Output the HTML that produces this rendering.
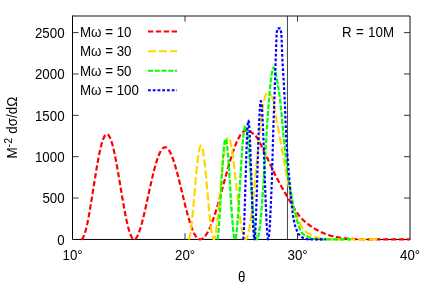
<!DOCTYPE html>
<html><head><meta charset="utf-8"><title>chart</title>
<style>html,body{margin:0;padding:0;background:#fff;width:432px;height:287px;overflow:hidden}svg{will-change:transform;opacity:.9999}</style>
</head><body>
<svg width="432" height="287" viewBox="0 0 432 287" style="position:absolute;left:0;top:0">
<rect width="432" height="287" fill="#fff"/>
<line x1="287.45" y1="16" x2="287.45" y2="239.4" stroke="#222" stroke-width="0.85"/>
<path d="M72.5,16 H410" stroke="#111" stroke-width="1" fill="none"/>
<path d="M410,16 V239.4" stroke="#111" stroke-width="1" fill="none"/>
<path d="M72.5,15.5 V239.45 H410.5" stroke="#000" stroke-width="1" fill="none"/>
<line x1="72.5" y1="198.04" x2="78.5" y2="198.04" stroke="#333" stroke-width="1"/>
<line x1="410" y1="198.04" x2="404" y2="198.04" stroke="#333" stroke-width="1"/>
<line x1="72.5" y1="156.68" x2="78.5" y2="156.68" stroke="#333" stroke-width="1"/>
<line x1="410" y1="156.68" x2="404" y2="156.68" stroke="#333" stroke-width="1"/>
<line x1="72.5" y1="115.32" x2="78.5" y2="115.32" stroke="#333" stroke-width="1"/>
<line x1="410" y1="115.32" x2="404" y2="115.32" stroke="#333" stroke-width="1"/>
<line x1="72.5" y1="73.96" x2="78.5" y2="73.96" stroke="#333" stroke-width="1"/>
<line x1="410" y1="73.96" x2="404" y2="73.96" stroke="#333" stroke-width="1"/>
<line x1="72.5" y1="32.60" x2="78.5" y2="32.60" stroke="#333" stroke-width="1"/>
<line x1="410" y1="32.60" x2="404" y2="32.60" stroke="#333" stroke-width="1"/>
<line x1="185.00" y1="239.4" x2="185.00" y2="233.2" stroke="#333" stroke-width="1"/>
<line x1="185.00" y1="16" x2="185.00" y2="21.5" stroke="#333" stroke-width="1"/>
<line x1="297.50" y1="239.4" x2="297.50" y2="233.2" stroke="#333" stroke-width="1"/>
<line x1="297.50" y1="16" x2="297.50" y2="21.5" stroke="#333" stroke-width="1"/>
<path d="M81.20,239.40 L82.09,238.98 L82.97,237.84 L83.86,236.04 L84.74,233.62 L85.62,230.64 L86.51,227.14 L87.40,223.17 L88.28,218.79 L89.17,214.05 L90.05,209.01 L90.94,203.73 L91.82,198.28 L92.71,192.71 L93.59,187.10 L94.48,181.50 L95.36,175.98 L96.25,170.59 L97.13,165.40 L98.02,160.46 L98.90,155.82 L99.78,151.54 L100.67,147.65 L101.56,144.19 L102.44,141.21 L103.33,138.73 L104.21,136.77 L105.09,135.35 L105.98,134.48 L106.87,134.18 L107.75,134.44 L108.64,135.25 L109.52,136.61 L110.41,138.50 L111.29,140.89 L112.18,143.77 L113.06,147.09 L113.95,150.82 L114.83,154.92 L115.72,159.35 L116.60,164.06 L117.49,169.00 L118.37,174.12 L119.26,179.36 L120.14,184.68 L121.03,190.01 L121.91,195.30 L122.80,200.50 L123.68,205.55 L124.57,210.41 L125.45,215.03 L126.34,219.35 L127.22,223.34 L128.11,226.96 L128.99,230.17 L129.88,232.93 L130.76,235.23 L131.65,237.04 L132.53,238.35 L133.42,239.14 L134.30,239.40 L135.40,238.89 L136.49,237.61 L137.59,235.67 L138.68,233.14 L139.78,230.09 L140.87,226.59 L141.97,222.68 L143.06,218.44 L144.16,213.92 L145.25,209.18 L146.34,204.28 L147.44,199.29 L148.53,194.26 L149.63,189.25 L150.73,184.33 L151.82,179.53 L152.92,174.92 L154.01,170.53 L155.11,166.43 L156.20,162.64 L157.30,159.21 L158.39,156.16 L159.49,153.53 L160.58,151.34 L161.68,149.61 L162.77,148.34 L163.87,147.56 L164.96,147.25 L166.06,147.43 L167.15,148.09 L168.25,149.20 L169.34,150.77 L170.44,152.77 L171.53,155.17 L172.62,157.95 L173.72,161.08 L174.81,164.53 L175.91,168.25 L177.00,172.22 L178.10,176.38 L179.19,180.70 L180.29,185.14 L181.38,189.64 L182.48,194.18 L183.57,198.69 L184.67,203.15 L185.76,207.50 L186.86,211.71 L187.95,215.74 L189.05,219.55 L190.15,223.10 L191.24,226.37 L192.34,229.32 L193.43,231.93 L194.53,234.18 L195.62,236.04 L196.72,237.50 L197.81,238.55 L198.91,239.19 L200.00,239.40 L201.17,239.23 L202.34,238.73 L203.50,237.89 L204.67,236.73 L205.84,235.24 L207.00,233.45 L208.17,231.35 L209.34,228.97 L210.51,226.32 L211.68,223.41 L212.84,220.26 L214.01,216.90 L215.18,213.33 L216.34,209.59 L217.51,205.70 L218.68,201.68 L219.85,197.55 L221.01,193.35 L222.18,189.09 L223.35,184.80 L224.52,180.52 L225.69,176.26 L226.85,172.06 L228.02,167.93 L229.19,163.91 L230.35,160.02 L231.52,156.28 L232.69,152.71 L233.86,149.35 L235.02,146.20 L236.19,143.29 L237.36,140.64 L238.53,138.25 L239.69,136.16 L240.86,134.37 L242.03,132.88 L243.20,131.72 L244.36,130.88 L245.53,130.38 L246.70,130.21 L246.95,130.23 L247.20,130.26 L247.45,130.31 L247.70,130.36 L247.95,130.43 L248.20,130.51 L248.45,130.59 L248.70,130.69 L248.95,130.79 L249.20,130.91 L249.45,131.03 L249.70,131.17 L249.95,131.31 L250.20,131.46 L250.45,131.61 L250.70,131.78 L250.94,131.95 L251.19,132.12 L251.44,132.31 L251.69,132.50 L251.94,132.69 L252.19,132.89 L252.44,133.10 L252.69,133.31 L252.94,133.52 L253.19,133.74 L253.44,133.96 L253.69,134.19 L253.94,134.42 L254.19,134.65 L254.44,134.88 L254.69,135.12 L254.94,135.35 L255.19,135.59 L255.44,135.83 L255.69,136.07 L255.94,136.32 L256.19,136.60 L256.44,136.89 L256.69,137.20 L256.94,137.54 L257.19,137.89 L257.44,138.26 L257.69,138.64 L257.94,139.04 L258.19,139.46 L258.44,139.89 L258.69,140.33 L258.94,140.79 L259.18,141.26 L259.43,141.73 L259.68,142.22 L259.93,142.72 L260.18,143.22 L260.43,143.74 L260.68,144.25 L260.93,144.78 L261.18,145.31 L261.43,145.84 L261.68,146.38 L261.93,146.92 L262.18,147.45 L262.43,147.99 L262.68,148.53 L262.93,149.07 L263.18,149.61 L263.43,150.14 L263.68,150.67 L263.93,151.19 L264.18,151.71 L264.43,152.23 L264.68,152.73 L264.93,153.23 L265.18,153.72 L265.43,154.22 L265.68,154.72 L265.93,155.22 L266.18,155.73 L266.43,156.24 L266.68,156.75 L266.93,157.27 L267.17,157.79 L267.42,158.31 L267.67,158.84 L267.92,159.36 L268.17,159.89 L268.42,160.42 L268.67,160.96 L268.92,161.49 L269.17,162.03 L269.42,162.56 L269.67,163.10 L269.92,163.64 L270.17,164.17 L270.42,164.71 L270.67,165.25 L270.92,165.79 L271.17,166.32 L271.42,166.86 L271.67,167.40 L271.92,167.93 L272.17,168.46 L272.42,168.99 L272.67,169.52 L272.92,170.05 L273.17,170.58 L273.42,171.10 L273.67,171.62 L273.92,172.14 L274.17,172.65 L274.42,173.16 L274.67,173.67 L274.92,174.17 L275.17,174.67 L275.41,175.17 L275.66,175.66 L275.91,176.15 L276.16,176.63 L276.41,177.11 L276.66,177.59 L276.91,178.07 L277.16,178.55 L277.41,179.03 L277.66,179.50 L277.91,179.98 L278.16,180.45 L278.41,180.92 L278.66,181.39 L278.91,181.86 L279.16,182.33 L279.41,182.79 L279.66,183.26 L279.91,183.72 L280.16,184.18 L280.41,184.64 L280.66,185.10 L280.91,185.56 L281.16,186.02 L281.41,186.47 L281.66,186.92 L281.91,187.37 L282.16,187.82 L282.41,188.27 L282.66,188.72 L282.91,189.17 L283.16,189.61 L283.41,190.06 L283.65,190.50 L283.90,190.94 L284.15,191.38 L284.40,191.82 L284.65,192.25 L284.90,192.69 L285.15,193.12 L285.40,193.55 L285.65,193.99 L285.90,194.42 L286.15,194.84 L286.40,195.27 L286.65,195.70 L286.90,196.12 L287.15,196.54 L287.40,196.96 L287.65,197.39 L287.90,197.81 L288.15,198.23 L288.40,198.66 L288.65,199.08 L288.90,199.51 L289.15,199.93 L289.40,200.36 L289.65,200.79 L289.90,201.21 L290.15,201.64 L290.40,202.06 L290.65,202.49 L290.90,202.91 L291.15,203.33 L291.40,203.76 L291.64,204.18 L291.89,204.60 L292.14,205.02 L292.39,205.43 L292.64,205.85 L292.89,206.26 L293.14,206.68 L293.39,207.08 L293.64,207.49 L293.89,207.90 L294.14,208.30 L294.39,208.70 L294.64,209.09 L294.89,209.49 L295.14,209.88 L295.39,210.27 L295.64,210.65 L295.89,211.03 L296.14,211.41 L296.39,211.78 L296.64,212.15 L296.89,212.51 L297.14,212.87 L297.39,213.23 L297.64,213.58 L297.89,213.92 L298.14,214.26 L298.39,214.60 L298.64,214.93 L298.89,215.26 L299.14,215.58 L299.39,215.89 L299.64,216.20 L299.88,216.50 L300.13,216.80 L300.38,217.10 L300.63,217.39 L300.88,217.67 L301.13,217.95 L301.38,218.23 L301.63,218.50 L301.88,218.76 L302.13,219.02 L302.38,219.28 L302.63,219.52 L302.88,219.77 L303.13,220.01 L303.38,220.24 L303.63,220.47 L303.88,220.69 L304.13,220.90 L304.38,221.12 L304.63,221.34 L304.88,221.55 L305.13,221.76 L305.38,221.97 L305.63,222.18 L305.88,222.38 L306.13,222.59 L306.38,222.79 L306.63,223.00 L306.88,223.20 L307.13,223.40 L307.38,223.60 L307.63,223.79 L307.88,223.99 L308.12,224.18 L308.37,224.37 L308.62,224.56 L308.87,224.75 L309.12,224.94 L309.37,225.12 L309.62,225.31 L309.87,225.49 L310.12,225.67 L310.37,225.85 L310.62,226.03 L310.87,226.20 L311.12,226.38 L311.37,226.55 L311.62,226.72 L311.87,226.89 L312.12,227.06 L312.37,227.23 L312.62,227.39 L312.87,227.55 L313.12,227.71 L313.37,227.87 L313.62,228.03 L313.87,228.19 L314.12,228.34 L314.37,228.50 L314.62,228.65 L314.87,228.80 L315.12,228.94 L315.37,229.09 L315.62,229.23 L315.87,229.37 L316.11,229.51 L316.36,229.65 L316.61,229.79 L316.86,229.93 L317.11,230.06 L317.36,230.19 L317.61,230.32 L317.86,230.45 L318.11,230.57 L318.36,230.70 L318.61,230.83 L318.86,230.95 L319.11,231.07 L319.36,231.20 L319.61,231.32 L319.86,231.44 L320.11,231.56 L320.36,231.68 L320.61,231.80 L320.86,231.92 L321.11,232.04 L321.36,232.16 L321.61,232.28 L321.86,232.39 L322.11,232.51 L322.36,232.62 L322.61,232.73 L322.86,232.85 L323.11,232.96 L323.36,233.07 L323.61,233.18 L323.86,233.28 L324.11,233.39 L324.35,233.50 L324.60,233.60 L324.85,233.70 L325.10,233.81 L325.35,233.91 L325.60,234.01 L325.85,234.10 L326.10,234.20 L326.35,234.30 L326.60,234.39 L326.85,234.48 L327.10,234.58 L327.35,234.67 L327.60,234.76 L327.85,234.84 L328.10,234.93 L328.35,235.01 L328.60,235.10 L328.85,235.18 L329.10,235.26 L329.35,235.33 L329.60,235.41 L329.85,235.48 L330.10,235.56 L330.35,235.63 L330.60,235.70 L330.85,235.77 L331.10,235.83 L331.35,235.90 L331.60,235.96 L331.85,236.02 L332.10,236.08 L332.35,236.14 L332.59,236.20 L332.84,236.25 L333.09,236.31 L333.34,236.37 L333.59,236.43 L333.84,236.48 L334.09,236.54 L334.34,236.59 L334.59,236.65 L334.84,236.70 L335.09,236.75 L335.34,236.81 L335.59,236.86 L335.84,236.91 L336.09,236.96 L336.34,237.01 L336.59,237.06 L336.84,237.11 L337.09,237.16 L337.34,237.21 L337.59,237.26 L337.84,237.30 L338.09,237.35 L338.34,237.39 L338.59,237.44 L338.84,237.48 L339.09,237.53 L339.34,237.57 L339.59,237.61 L339.84,237.65 L340.09,237.69 L340.34,237.73 L340.59,237.77 L340.83,237.81 L341.08,237.85 L341.33,237.88 L341.58,237.92 L341.83,237.95 L342.08,237.99 L342.33,238.02 L342.58,238.06 L342.83,238.09 L343.08,238.12 L343.33,238.15 L343.58,238.18 L343.83,238.21 L344.08,238.24 L344.33,238.26 L344.58,238.29 L344.83,238.32 L345.08,238.34 L345.33,238.36 L345.58,238.39 L345.83,238.41 L346.08,238.43 L346.33,238.45 L346.58,238.47 L346.83,238.50 L347.08,238.52 L347.33,238.54 L347.58,238.56 L347.83,238.58 L348.08,238.60 L348.33,238.62 L348.58,238.64 L348.82,238.66 L349.07,238.68 L349.32,238.70 L349.57,238.72 L349.82,238.74 L350.07,238.76 L350.32,238.77 L350.57,238.79 L350.82,238.81 L351.07,238.83 L351.32,238.85 L351.57,238.86 L351.82,238.88 L352.07,238.90 L352.32,238.91 L352.57,238.93 L352.82,238.94 L353.07,238.96 L353.32,238.97 L353.57,238.99 L353.82,239.00 L354.07,239.02 L354.32,239.03 L354.57,239.04 L354.82,239.06 L355.07,239.07 L355.32,239.08 L355.57,239.09 L355.82,239.11 L356.07,239.12 L356.32,239.13 L356.57,239.14 L356.82,239.15 L357.06,239.16 L357.31,239.17 L357.56,239.17 L357.81,239.18 L358.06,239.19 L358.31,239.20 L358.56,239.20 L358.81,239.21 L359.06,239.22 L359.31,239.22 L359.56,239.23 L359.81,239.23 L360.06,239.24 L360.31,239.24 L360.56,239.24 L360.81,239.25 L361.06,239.25 L361.31,239.25 L361.56,239.26 L361.81,239.26 L362.06,239.26 L362.31,239.27 L362.56,239.27 L362.81,239.27 L363.06,239.28 L363.31,239.28 L363.56,239.28 L363.81,239.29 L364.06,239.29 L364.31,239.29 L364.56,239.30 L364.81,239.30 L365.06,239.30 L365.30,239.31 L365.55,239.31 L365.80,239.31 L366.05,239.32 L366.30,239.32 L366.55,239.32 L366.80,239.32 L367.05,239.33 L367.30,239.33 L367.55,239.33 L367.80,239.33 L368.05,239.34 L368.30,239.34 L368.55,239.34 L368.80,239.34 L369.05,239.35 L369.30,239.35 L369.55,239.35 L369.80,239.35 L370.05,239.36 L370.30,239.36 L370.55,239.36 L370.80,239.36 L371.05,239.36 L371.30,239.37 L371.55,239.37 L371.80,239.37 L372.05,239.37 L372.30,239.37 L372.55,239.37 L372.80,239.38 L373.05,239.38 L373.29,239.38 L373.54,239.38 L373.79,239.38 L374.04,239.38 L374.29,239.38 L374.54,239.39 L374.79,239.39 L375.04,239.39 L375.29,239.39 L375.54,239.39 L375.79,239.39 L376.04,239.39 L376.29,239.39 L376.54,239.39 L376.79,239.40 L377.04,239.40 L377.29,239.40 L377.54,239.40 L377.79,239.40 L378.04,239.40 L378.29,239.40 L378.54,239.40 L378.79,239.40 L379.04,239.40 L379.29,239.40 L379.54,239.40 L379.79,239.40 L380.04,239.40 L380.29,239.40 L380.54,239.40 L380.79,239.40 L381.04,239.40 L381.29,239.40 L381.53,239.40 L381.78,239.40 L382.03,239.40 L382.28,239.40 L382.53,239.40 L382.78,239.40 L383.03,239.40 L383.28,239.40 L383.53,239.40 L383.78,239.40 L384.03,239.40 L384.28,239.40 L384.53,239.40 L384.78,239.40 L385.03,239.40 L385.28,239.40 L385.53,239.40 L385.78,239.40 L386.03,239.40 L386.28,239.40 L386.53,239.40 L386.78,239.40 L387.03,239.40 L387.28,239.40 L387.53,239.40 L387.78,239.40 L388.03,239.40 L388.28,239.40 L388.53,239.40 L388.78,239.40 L389.03,239.40 L389.28,239.40 L389.53,239.40 L389.77,239.40 L390.02,239.40 L390.27,239.40 L390.52,239.40 L390.77,239.40 L391.02,239.40 L391.27,239.40 L391.52,239.40 L391.77,239.40 L392.02,239.40 L392.27,239.40 L392.52,239.40 L392.77,239.40 L393.02,239.40 L393.27,239.40 L393.52,239.40 L393.77,239.40 L394.02,239.40 L394.27,239.40 L394.52,239.40 L394.77,239.40 L395.02,239.40 L395.27,239.40 L395.52,239.40 L395.77,239.40 L396.02,239.40 L396.27,239.40 L396.52,239.40 L396.77,239.40 L397.02,239.40 L397.27,239.40 L397.52,239.40 L397.76,239.40 L398.01,239.40 L398.26,239.40 L398.51,239.40 L398.76,239.40 L399.01,239.40 L399.26,239.40 L399.51,239.40 L399.76,239.40 L400.01,239.40 L400.26,239.40 L400.51,239.40 L400.76,239.40 L401.01,239.40 L401.26,239.40 L401.51,239.40 L401.76,239.40 L402.01,239.40 L402.26,239.40 L402.51,239.40 L402.76,239.40 L403.01,239.40 L403.26,239.40 L403.51,239.40 L403.76,239.40 L404.01,239.40 L404.26,239.40 L404.51,239.40 L404.76,239.40 L405.01,239.40 L405.26,239.40 L405.51,239.40 L405.76,239.40 L406.00,239.40 L406.25,239.40 L406.50,239.40 L406.75,239.40 L407.00,239.40 L407.25,239.40 L407.50,239.40 L407.75,239.40 L408.00,239.40 L408.25,239.40 L408.50,239.40 L408.75,239.40 L409.00,239.40 L409.25,239.40 L409.50,239.40 L409.75,239.40 L410.00,239.40" fill="none" stroke="#ff0000" stroke-width="2.2" stroke-dasharray="5.3 2.6" stroke-linejoin="round"/>
<path d="M188.40,239.40 L188.83,239.09 L189.25,238.21 L189.68,236.78 L190.11,234.83 L190.53,232.39 L190.96,229.50 L191.39,226.18 L191.81,222.49 L192.24,218.47 L192.67,214.16 L193.09,209.61 L193.52,204.88 L193.95,200.01 L194.37,195.07 L194.80,190.11 L195.23,185.18 L195.65,180.34 L196.08,175.63 L196.51,171.12 L196.93,166.85 L197.36,162.86 L197.79,159.21 L198.21,155.92 L198.64,153.03 L199.07,150.57 L199.49,148.57 L199.92,147.05 L200.35,146.03 L200.77,145.50 L201.20,145.49 L201.63,145.98 L202.05,146.97 L202.48,148.45 L202.91,150.40 L203.33,152.80 L203.76,155.63 L204.19,158.84 L204.61,162.42 L205.04,166.31 L205.47,170.48 L205.89,174.88 L206.32,179.47 L206.75,184.19 L207.17,188.99 L207.60,193.83 L208.03,198.66 L208.45,203.41 L208.88,208.05 L209.31,212.51 L209.73,216.77 L210.16,220.76 L210.59,224.45 L211.01,227.81 L211.44,230.79 L211.87,233.36 L212.29,235.51 L212.72,237.20 L213.15,238.42 L213.57,239.15 L214.00,239.40 L214.53,238.59 L215.05,236.72 L215.57,234.02 L216.10,230.62 L216.62,226.64 L217.15,222.16 L217.68,217.28 L218.20,212.07 L218.72,206.62 L219.25,200.99 L219.78,195.28 L220.30,189.55 L220.82,183.86 L221.35,178.29 L221.88,172.89 L222.40,167.72 L222.93,162.83 L223.45,158.28 L223.97,154.09 L224.50,150.32 L225.03,147.00 L225.55,144.14 L226.07,141.78 L226.60,139.92 L227.12,138.59 L227.65,137.78 L228.18,137.49 L228.70,137.72 L229.22,138.47 L229.75,139.71 L230.28,141.43 L230.80,143.60 L231.32,146.20 L231.85,149.20 L232.38,152.57 L232.90,156.26 L233.43,160.25 L233.95,164.48 L234.47,168.93 L235.00,173.54 L235.53,178.27 L236.05,183.08 L236.57,187.93 L237.10,192.77 L237.62,197.55 L238.15,202.23 L238.68,206.79 L239.20,211.16 L239.72,215.33 L240.25,219.25 L240.78,222.89 L241.30,226.23 L241.82,229.23 L242.35,231.88 L242.88,234.15 L243.40,236.02 L243.93,237.50 L244.45,238.55 L244.97,239.19 L245.50,239.40 L246.04,239.17 L246.59,238.50 L247.13,237.38 L247.67,235.83 L248.21,233.84 L248.75,231.44 L249.30,228.64 L249.84,225.45 L250.38,221.90 L250.93,218.01 L251.47,213.80 L252.01,209.29 L252.55,204.52 L253.09,199.52 L253.64,194.31 L254.18,188.93 L254.72,183.41 L255.26,177.78 L255.81,172.09 L256.35,166.36 L256.89,160.63 L257.44,154.93 L257.98,149.31 L258.52,143.79 L259.06,138.41 L259.61,133.20 L260.15,128.19 L260.69,123.43 L261.23,118.92 L261.77,114.71 L262.32,110.82 L262.86,107.27 L263.40,104.08 L263.94,101.28 L264.49,98.88 L265.03,96.89 L265.57,95.33 L266.12,94.22 L266.66,93.54 L267.20,93.32 L267.45,93.33 L267.70,93.36 L267.95,93.42 L268.20,93.49 L268.45,93.59 L268.70,93.70 L268.95,93.83 L269.20,93.98 L269.45,94.15 L269.70,94.33 L269.95,94.53 L270.19,94.74 L270.44,94.97 L270.69,95.21 L270.94,95.46 L271.19,95.72 L271.44,96.00 L271.69,96.28 L271.94,96.67 L272.19,97.24 L272.44,97.97 L272.69,98.87 L272.94,99.90 L273.19,101.05 L273.44,102.30 L273.69,103.65 L273.94,105.07 L274.19,106.54 L274.44,108.06 L274.69,109.60 L274.94,111.15 L275.19,112.69 L275.44,114.20 L275.68,115.68 L275.93,117.10 L276.18,118.44 L276.43,119.72 L276.68,120.98 L276.93,122.25 L277.18,123.51 L277.43,124.78 L277.68,126.06 L277.93,127.34 L278.18,128.62 L278.43,129.91 L278.68,131.21 L278.93,132.52 L279.18,133.84 L279.43,135.16 L279.68,136.50 L279.93,137.85 L280.18,139.22 L280.43,140.60 L280.68,142.00 L280.93,143.40 L281.17,144.82 L281.42,146.25 L281.67,147.68 L281.92,149.12 L282.17,150.57 L282.42,152.02 L282.67,153.47 L282.92,154.92 L283.17,156.37 L283.42,157.82 L283.67,159.27 L283.92,160.72 L284.17,162.16 L284.42,163.59 L284.67,165.01 L284.92,166.42 L285.17,167.83 L285.42,169.22 L285.67,170.59 L285.92,171.95 L286.17,173.30 L286.42,174.63 L286.66,175.94 L286.91,177.22 L287.16,178.46 L287.41,179.67 L287.66,180.87 L287.91,182.07 L288.16,183.27 L288.41,184.49 L288.66,185.75 L288.91,187.04 L289.16,188.43 L289.41,189.90 L289.66,191.43 L289.91,193.01 L290.16,194.61 L290.41,196.22 L290.66,197.82 L290.91,199.39 L291.16,200.91 L291.41,202.37 L291.66,203.74 L291.91,205.00 L292.15,206.15 L292.40,207.15 L292.65,208.00 L292.90,208.70 L293.15,209.36 L293.40,209.96 L293.65,210.53 L293.90,211.05 L294.15,211.55 L294.40,212.01 L294.65,212.46 L294.90,212.88 L295.15,213.30 L295.40,213.71 L295.65,214.12 L295.90,214.53 L296.15,214.96 L296.40,215.40 L296.65,215.86 L296.90,216.35 L297.15,216.85 L297.40,217.37 L297.65,217.90 L297.89,218.44 L298.14,218.99 L298.39,219.55 L298.64,220.11 L298.89,220.68 L299.14,221.25 L299.39,221.82 L299.64,222.38 L299.89,222.95 L300.14,223.51 L300.39,224.06 L300.64,224.61 L300.89,225.14 L301.14,225.66 L301.39,226.17 L301.64,226.66 L301.89,227.14 L302.14,227.60 L302.39,228.03 L302.64,228.45 L302.89,228.84 L303.14,229.20 L303.38,229.54 L303.63,229.84 L303.88,230.12 L304.13,230.36 L304.38,230.58 L304.63,230.79 L304.88,230.97 L305.13,231.15 L305.38,231.32 L305.63,231.49 L305.88,231.67 L306.13,231.84 L306.38,232.02 L306.63,232.19 L306.88,232.36 L307.13,232.53 L307.38,232.69 L307.63,232.86 L307.88,233.02 L308.13,233.19 L308.38,233.35 L308.63,233.51 L308.87,233.66 L309.12,233.82 L309.37,233.97 L309.62,234.12 L309.87,234.27 L310.12,234.42 L310.37,234.56 L310.62,234.70 L310.87,234.84 L311.12,234.98 L311.37,235.12 L311.62,235.25 L311.87,235.38 L312.12,235.50 L312.37,235.63 L312.62,235.75 L312.87,235.87 L313.12,235.98 L313.37,236.09 L313.62,236.19 L313.87,236.29 L314.12,236.38 L314.36,236.47 L314.61,236.55 L314.86,236.64 L315.11,236.72 L315.36,236.80 L315.61,236.88 L315.86,236.96 L316.11,237.04 L316.36,237.12 L316.61,237.19 L316.86,237.26 L317.11,237.34 L317.36,237.41 L317.61,237.47 L317.86,237.54 L318.11,237.61 L318.36,237.67 L318.61,237.73 L318.86,237.79 L319.11,237.85 L319.36,237.91 L319.61,237.97 L319.85,238.02 L320.10,238.07 L320.35,238.12 L320.60,238.17 L320.85,238.22 L321.10,238.26 L321.35,238.30 L321.60,238.35 L321.85,238.39 L322.10,238.43 L322.35,238.47 L322.60,238.51 L322.85,238.55 L323.10,238.59 L323.35,238.63 L323.60,238.67 L323.85,238.70 L324.10,238.74 L324.35,238.78 L324.60,238.81 L324.85,238.84 L325.10,238.87 L325.35,238.91 L325.59,238.93 L325.84,238.96 L326.09,238.99 L326.34,239.02 L326.59,239.04 L326.84,239.06 L327.09,239.09 L327.34,239.11 L327.59,239.12 L327.84,239.14 L328.09,239.16 L328.34,239.17 L328.59,239.19 L328.84,239.20 L329.09,239.22 L329.34,239.23 L329.59,239.25 L329.84,239.26 L330.09,239.28 L330.34,239.29 L330.59,239.30 L330.84,239.31 L331.08,239.33 L331.33,239.34 L331.58,239.35 L331.83,239.36 L332.08,239.37 L332.33,239.37 L332.58,239.38 L332.83,239.39 L333.08,239.39 L333.33,239.40 L333.58,239.40 L333.83,239.40 L334.08,239.40 L334.33,239.40 L334.58,239.40 L334.83,239.40 L335.08,239.40 L335.33,239.40 L335.58,239.40 L335.83,239.40 L336.08,239.40 L336.33,239.40 L336.57,239.40 L336.82,239.40 L337.07,239.40 L337.32,239.40 L337.57,239.40 L337.82,239.40 L338.07,239.40 L338.32,239.40 L338.57,239.40 L338.82,239.40 L339.07,239.40 L339.32,239.40 L339.57,239.40 L339.82,239.40 L340.07,239.40 L340.32,239.40 L340.57,239.40 L340.82,239.40 L341.07,239.40 L341.32,239.40 L341.57,239.40 L341.82,239.40 L342.06,239.40 L342.31,239.40 L342.56,239.40 L342.81,239.40 L343.06,239.40 L343.31,239.40 L343.56,239.40 L343.81,239.40 L344.06,239.40 L344.31,239.40 L344.56,239.40 L344.81,239.40 L345.06,239.40 L345.31,239.40 L345.56,239.40 L345.81,239.40 L346.06,239.40 L346.31,239.40 L346.56,239.40 L346.81,239.40 L347.06,239.40 L347.31,239.40 L347.55,239.40 L347.80,239.40 L348.05,239.40 L348.30,239.40 L348.55,239.40 L348.80,239.40 L349.05,239.40 L349.30,239.40 L349.55,239.40 L349.80,239.40 L350.05,239.40 L350.30,239.40 L350.55,239.40 L350.80,239.40 L351.05,239.40 L351.30,239.40 L351.55,239.40 L351.80,239.40 L352.05,239.40 L352.30,239.40 L352.55,239.40 L352.80,239.40 L353.05,239.40 L353.29,239.40 L353.54,239.40 L353.79,239.40 L354.04,239.40 L354.29,239.40 L354.54,239.40 L354.79,239.40 L355.04,239.40 L355.29,239.40 L355.54,239.40 L355.79,239.40 L356.04,239.40 L356.29,239.40 L356.54,239.40 L356.79,239.40 L357.04,239.40 L357.29,239.40 L357.54,239.40 L357.79,239.40 L358.04,239.40 L358.29,239.40 L358.54,239.40 L358.78,239.40 L359.03,239.40 L359.28,239.40 L359.53,239.40 L359.78,239.40 L360.03,239.40 L360.28,239.40 L360.53,239.40 L360.78,239.40 L361.03,239.40 L361.28,239.40 L361.53,239.40 L361.78,239.40 L362.03,239.40 L362.28,239.40 L362.53,239.40 L362.78,239.40 L363.03,239.40 L363.28,239.40 L363.53,239.40 L363.78,239.40 L364.03,239.40 L364.27,239.40 L364.52,239.40 L364.77,239.40 L365.02,239.40 L365.27,239.40 L365.52,239.40 L365.77,239.40 L366.02,239.40 L366.27,239.40 L366.52,239.40 L366.77,239.40 L367.02,239.40 L367.27,239.40 L367.52,239.40 L367.77,239.40 L368.02,239.40 L368.27,239.40 L368.52,239.40 L368.77,239.40 L369.02,239.40 L369.27,239.40 L369.52,239.40 L369.76,239.40 L370.01,239.40 L370.26,239.40 L370.51,239.40 L370.76,239.40 L371.01,239.40 L371.26,239.40 L371.51,239.40 L371.76,239.40 L372.01,239.40 L372.26,239.40 L372.51,239.40 L372.76,239.40 L373.01,239.40 L373.26,239.40 L373.51,239.40 L373.76,239.40 L374.01,239.40 L374.26,239.40 L374.51,239.40 L374.76,239.40 L375.01,239.40 L375.25,239.40 L375.50,239.40 L375.75,239.40 L376.00,239.40 L376.25,239.40 L376.50,239.40 L376.75,239.40 L377.00,239.40 L377.25,239.40 L377.50,239.40 L377.75,239.40 L378.00,239.40" fill="none" stroke="#ffd700" stroke-width="2.2" stroke-dasharray="8 3" stroke-linejoin="round"/>
<path d="M217.20,239.40 L217.50,238.85 L217.80,237.46 L218.09,235.36 L218.39,232.62 L218.69,229.31 L218.99,225.50 L219.29,221.26 L219.59,216.64 L219.88,211.72 L220.18,206.56 L220.48,201.23 L220.78,195.79 L221.08,190.31 L221.38,184.86 L221.67,179.48 L221.97,174.25 L222.27,169.21 L222.57,164.43 L222.87,159.94 L223.17,155.80 L223.47,152.04 L223.76,148.71 L224.06,145.83 L224.36,143.42 L224.66,141.51 L224.96,140.12 L225.25,139.25 L225.55,138.90 L225.85,139.08 L226.15,139.78 L226.45,140.99 L226.75,142.68 L227.04,144.85 L227.34,147.46 L227.64,150.49 L227.94,153.89 L228.24,157.65 L228.54,161.70 L228.83,166.03 L229.13,170.57 L229.43,175.28 L229.73,180.12 L230.03,185.04 L230.33,189.98 L230.62,194.92 L230.92,199.78 L231.22,204.54 L231.52,209.14 L231.82,213.54 L232.12,217.70 L232.41,221.58 L232.71,225.15 L233.01,228.38 L233.31,231.23 L233.61,233.69 L233.91,235.72 L234.20,237.32 L234.50,238.48 L234.80,239.17 L235.10,239.40 L235.46,238.88 L235.83,237.50 L236.19,235.36 L236.55,232.53 L236.92,229.08 L237.28,225.07 L237.64,220.55 L238.01,215.60 L238.37,210.29 L238.73,204.67 L239.10,198.83 L239.46,192.83 L239.82,186.74 L240.19,180.64 L240.55,174.58 L240.91,168.65 L241.28,162.90 L241.64,157.39 L242.00,152.18 L242.37,147.34 L242.73,142.90 L243.09,138.90 L243.46,135.40 L243.82,132.42 L244.18,129.99 L244.55,128.13 L244.91,126.86 L245.27,126.19 L245.64,126.12 L246.00,126.64 L246.36,127.75 L246.73,129.43 L247.09,131.66 L247.45,134.42 L247.82,137.67 L248.18,141.37 L248.54,145.50 L248.91,150.00 L249.27,154.82 L249.63,159.92 L250.00,165.24 L250.36,170.73 L250.72,176.33 L251.09,181.99 L251.45,187.65 L251.81,193.25 L252.18,198.74 L252.54,204.06 L252.90,209.17 L253.27,214.00 L253.63,218.53 L253.99,222.70 L254.36,226.47 L254.72,229.81 L255.08,232.69 L255.45,235.08 L255.81,236.96 L256.17,238.31 L256.54,239.13 L256.90,239.40 L257.32,239.13 L257.75,238.34 L258.17,237.02 L258.59,235.19 L259.01,232.85 L259.44,230.03 L259.86,226.73 L260.28,222.98 L260.70,218.80 L261.12,214.21 L261.55,209.26 L261.97,203.95 L262.39,198.34 L262.81,192.45 L263.24,186.32 L263.66,179.98 L264.08,173.49 L264.50,166.86 L264.93,160.16 L265.35,153.41 L265.77,146.67 L266.19,139.96 L266.62,133.34 L267.04,126.84 L267.46,120.51 L267.88,114.38 L268.31,108.48 L268.73,102.87 L269.15,97.57 L269.57,92.61 L270.00,88.03 L270.42,83.85 L270.84,80.10 L271.26,76.80 L271.69,73.97 L272.11,71.63 L272.53,69.80 L272.95,68.48 L273.38,67.69 L273.80,67.43 L274.05,67.95 L274.30,68.57 L274.55,69.26 L274.80,70.04 L275.05,70.90 L275.30,71.83 L275.55,72.82 L275.80,73.89 L276.05,75.02 L276.30,76.21 L276.55,77.46 L276.80,78.76 L277.05,80.11 L277.30,81.51 L277.55,82.95 L277.80,84.44 L278.05,85.96 L278.30,87.51 L278.55,89.10 L278.80,90.71 L279.05,92.35 L279.30,94.01 L279.55,95.68 L279.80,97.44 L280.05,99.39 L280.30,101.52 L280.55,103.81 L280.80,106.24 L281.05,108.78 L281.30,111.42 L281.54,114.12 L281.79,116.87 L282.04,119.65 L282.29,122.42 L282.54,125.18 L282.79,127.89 L283.04,130.54 L283.29,133.10 L283.54,135.55 L283.79,137.91 L284.04,140.30 L284.29,142.69 L284.54,145.09 L284.79,147.49 L285.04,149.89 L285.29,152.27 L285.54,154.63 L285.79,156.96 L286.04,159.26 L286.29,161.52 L286.54,163.74 L286.79,165.90 L287.04,168.01 L287.29,170.05 L287.54,172.01 L287.79,173.90 L288.04,175.70 L288.29,177.42 L288.54,179.06 L288.79,180.64 L289.04,182.15 L289.29,183.62 L289.54,185.05 L289.79,186.45 L290.04,187.82 L290.29,189.19 L290.54,190.55 L290.79,191.91 L291.04,193.29 L291.29,194.69 L291.54,196.10 L291.79,197.50 L292.04,198.90 L292.29,200.27 L292.54,201.61 L292.79,202.91 L293.04,204.16 L293.29,205.35 L293.54,206.47 L293.79,207.52 L294.04,208.50 L294.29,209.43 L294.54,210.33 L294.79,211.21 L295.04,212.07 L295.29,212.95 L295.54,213.84 L295.79,214.76 L296.04,215.73 L296.29,216.78 L296.54,217.92 L296.79,219.08 L297.03,220.16 L297.28,221.09 L297.53,221.97 L297.78,222.83 L298.03,223.67 L298.28,224.49 L298.53,225.28 L298.78,226.05 L299.03,226.79 L299.28,227.50 L299.53,228.18 L299.78,228.83 L300.03,229.45 L300.28,230.03 L300.53,230.57 L300.78,231.07 L301.03,231.54 L301.28,231.97 L301.53,232.38 L301.78,232.75 L302.03,233.07 L302.28,233.34 L302.53,233.58 L302.78,233.80 L303.03,234.00 L303.28,234.19 L303.53,234.37 L303.78,234.53 L304.03,234.69 L304.28,234.84 L304.53,234.99 L304.78,235.13 L305.03,235.26 L305.28,235.40 L305.53,235.53 L305.78,235.67 L306.03,235.80 L306.28,235.93 L306.53,236.06 L306.78,236.18 L307.03,236.30 L307.28,236.42 L307.53,236.53 L307.78,236.64 L308.03,236.75 L308.28,236.86 L308.53,236.97 L308.78,237.07 L309.03,237.18 L309.28,237.28 L309.53,237.39 L309.78,237.50 L310.03,237.60 L310.28,237.71 L310.53,237.82 L310.78,237.92 L311.03,238.03 L311.28,238.13 L311.53,238.22 L311.78,238.31 L312.03,238.39 L312.28,238.47 L312.52,238.53 L312.77,238.59 L313.02,238.64 L313.27,238.70 L313.52,238.75 L313.77,238.79 L314.02,238.84 L314.27,238.89 L314.52,238.93 L314.77,238.97 L315.02,239.01 L315.27,239.04 L315.52,239.08 L315.77,239.11 L316.02,239.14 L316.27,239.17 L316.52,239.19 L316.77,239.22 L317.02,239.24 L317.27,239.26 L317.52,239.28 L317.77,239.30 L318.02,239.31 L318.27,239.33 L318.52,239.35 L318.77,239.36 L319.02,239.38 L319.27,239.39 L319.52,239.39 L319.77,239.40 L320.02,239.40 L320.27,239.40 L320.52,239.40 L320.77,239.40 L321.02,239.40 L321.27,239.40 L321.52,239.40 L321.77,239.40 L322.02,239.40 L322.27,239.40 L322.52,239.40 L322.77,239.40 L323.02,239.40 L323.27,239.40 L323.52,239.40 L323.77,239.40 L324.02,239.40 L324.27,239.40 L324.52,239.40 L324.77,239.40 L325.02,239.40 L325.27,239.40 L325.52,239.40 L325.77,239.40 L326.02,239.40 L326.27,239.40 L326.52,239.40 L326.77,239.40 L327.02,239.40 L327.27,239.40 L327.52,239.40 L327.77,239.40 L328.01,239.40 L328.26,239.40 L328.51,239.40 L328.76,239.40 L329.01,239.40 L329.26,239.40 L329.51,239.40 L329.76,239.40 L330.01,239.40 L330.26,239.40 L330.51,239.40 L330.76,239.40 L331.01,239.40 L331.26,239.40 L331.51,239.40 L331.76,239.40 L332.01,239.40 L332.26,239.40 L332.51,239.40 L332.76,239.40 L333.01,239.40 L333.26,239.40 L333.51,239.40 L333.76,239.40 L334.01,239.40 L334.26,239.40 L334.51,239.40 L334.76,239.40 L335.01,239.40 L335.26,239.40 L335.51,239.40 L335.76,239.40 L336.01,239.40 L336.26,239.40 L336.51,239.40 L336.76,239.40 L337.01,239.40 L337.26,239.40 L337.51,239.40 L337.76,239.40 L338.01,239.40 L338.26,239.40 L338.51,239.40 L338.76,239.40 L339.01,239.40 L339.26,239.40 L339.51,239.40 L339.76,239.40 L340.01,239.40 L340.26,239.40 L340.51,239.40 L340.76,239.40 L341.01,239.40 L341.26,239.40 L341.51,239.40 L341.76,239.40 L342.01,239.40 L342.26,239.40 L342.51,239.40 L342.76,239.40 L343.01,239.40 L343.26,239.40 L343.50,239.40 L343.75,239.40 L344.00,239.40 L344.25,239.40 L344.50,239.40 L344.75,239.40 L345.00,239.40 L345.25,239.40 L345.50,239.40 L345.75,239.40 L346.00,239.40 L346.25,239.40 L346.50,239.40 L346.75,239.40 L347.00,239.40 L347.25,239.40 L347.50,239.40 L347.75,239.40 L348.00,239.40 L348.25,239.40 L348.50,239.40 L348.75,239.40 L349.00,239.40 L349.25,239.40 L349.50,239.40 L349.75,239.40 L350.00,239.40 L350.25,239.40 L350.50,239.40 L350.75,239.40 L351.00,239.40" fill="none" stroke="#00ff00" stroke-width="2.2" stroke-dasharray="5 1.77" stroke-linejoin="round"/>
<path d="M243.10,239.40 L243.29,238.69 L243.48,236.93 L243.67,234.30 L243.86,230.91 L244.05,226.83 L244.24,222.17 L244.43,217.00 L244.62,211.41 L244.81,205.47 L245.00,199.27 L245.19,192.88 L245.38,186.40 L245.57,179.89 L245.76,173.42 L245.95,167.08 L246.14,160.93 L246.33,155.04 L246.52,149.47 L246.71,144.26 L246.90,139.49 L247.09,135.18 L247.28,131.39 L247.47,128.14 L247.66,125.46 L247.85,123.37 L248.04,121.89 L248.23,121.03 L248.42,120.78 L248.61,121.15 L248.80,122.13 L248.99,123.70 L249.18,125.83 L249.37,128.50 L249.56,131.69 L249.75,135.35 L249.94,139.44 L250.13,143.93 L250.32,148.76 L250.51,153.88 L250.70,159.25 L250.89,164.80 L251.08,170.49 L251.27,176.26 L251.46,182.05 L251.65,187.81 L251.84,193.49 L252.03,199.03 L252.22,204.37 L252.41,209.49 L252.60,214.31 L252.79,218.81 L252.98,222.95 L253.17,226.68 L253.36,229.98 L253.55,232.81 L253.74,235.16 L253.93,237.01 L254.12,238.33 L254.31,239.13 L254.50,239.40 L254.73,238.56 L254.96,236.47 L255.19,233.35 L255.42,229.34 L255.65,224.54 L255.88,219.05 L256.11,212.97 L256.34,206.39 L256.57,199.42 L256.80,192.16 L257.03,184.68 L257.26,177.09 L257.49,169.48 L257.72,161.94 L257.95,154.54 L258.18,147.38 L258.41,140.52 L258.64,134.04 L258.87,128.00 L259.10,122.46 L259.33,117.48 L259.56,113.09 L259.79,109.35 L260.02,106.27 L260.25,103.89 L260.48,102.21 L260.71,101.25 L260.94,101.02 L261.17,101.50 L261.40,102.69 L261.63,104.56 L261.86,107.08 L262.09,110.24 L262.32,113.99 L262.55,118.28 L262.78,123.08 L263.01,128.33 L263.24,133.97 L263.47,139.96 L263.70,146.22 L263.93,152.70 L264.16,159.33 L264.39,166.04 L264.62,172.79 L264.85,179.49 L265.08,186.09 L265.31,192.53 L265.54,198.75 L265.77,204.68 L266.00,210.29 L266.23,215.52 L266.46,220.32 L266.69,224.65 L266.92,228.47 L267.15,231.76 L267.38,234.49 L267.61,236.63 L267.84,238.16 L268.07,239.09 L268.30,239.40 L268.55,238.82 L268.80,237.47 L269.05,235.65 L269.30,233.50 L269.55,230.18 L269.80,225.85 L270.05,220.97 L270.30,216.02 L270.55,211.09 L270.80,205.91 L271.05,200.45 L271.30,194.64 L271.55,188.46 L271.80,181.84 L272.05,174.73 L272.30,166.24 L272.55,156.64 L272.80,146.85 L273.05,137.78 L273.30,129.90 L273.55,122.57 L273.80,115.58 L274.05,108.75 L274.29,101.87 L274.54,94.76 L274.79,87.47 L275.04,80.12 L275.29,72.75 L275.54,65.39 L275.79,58.10 L276.04,50.50 L276.29,42.14 L276.54,35.88 L276.79,33.00 L277.04,30.71 L277.29,29.09 L277.54,28.33 L277.79,28.30 L278.04,28.30 L278.29,28.30 L278.54,28.30 L278.79,28.30 L279.04,28.30 L279.29,28.30 L279.54,28.30 L279.79,28.30 L280.04,28.30 L280.29,28.30 L280.54,28.48 L280.79,29.57 L281.04,31.46 L281.29,33.89 L281.54,37.28 L281.79,43.66 L282.04,50.98 L282.29,56.86 L282.54,61.80 L282.79,66.35 L283.04,70.64 L283.29,74.77 L283.54,78.84 L283.79,82.97 L284.04,87.27 L284.29,91.84 L284.54,96.79 L284.79,102.39 L285.04,108.54 L285.29,114.95 L285.54,121.35 L285.78,127.43 L286.03,132.92 L286.28,137.57 L286.53,141.79 L286.78,145.76 L287.03,149.51 L287.28,153.08 L287.53,156.49 L287.78,159.76 L288.03,162.94 L288.28,166.05 L288.53,169.13 L288.78,172.19 L289.03,175.27 L289.28,178.39 L289.53,181.50 L289.78,184.58 L290.03,187.61 L290.28,190.58 L290.53,193.46 L290.78,196.23 L291.03,198.87 L291.28,201.37 L291.53,203.71 L291.78,205.95 L292.03,208.09 L292.28,210.12 L292.53,212.02 L292.78,213.78 L293.03,215.40 L293.28,216.88 L293.53,218.24 L293.78,219.52 L294.03,220.75 L294.28,221.96 L294.53,223.13 L294.78,224.26 L295.03,225.30 L295.28,226.25 L295.53,227.07 L295.78,227.81 L296.03,228.48 L296.28,229.10 L296.53,229.69 L296.78,230.24 L297.03,230.77 L297.27,231.28 L297.52,231.80 L297.77,232.30 L298.02,232.80 L298.27,233.27 L298.52,233.71 L298.77,234.11 L299.02,234.47 L299.27,234.79 L299.52,235.09 L299.77,235.37 L300.02,235.63 L300.27,235.88 L300.52,236.11 L300.77,236.32 L301.02,236.52 L301.27,236.71 L301.52,236.89 L301.77,237.07 L302.02,237.24 L302.27,237.41 L302.52,237.56 L302.77,237.71 L303.02,237.84 L303.27,237.97 L303.52,238.08 L303.77,238.19 L304.02,238.29 L304.27,238.38 L304.52,238.47 L304.77,238.55 L305.02,238.63 L305.27,238.71 L305.52,238.78 L305.77,238.84 L306.02,238.90 L306.27,238.96 L306.52,239.01 L306.77,239.07 L307.02,239.12 L307.27,239.17 L307.52,239.23 L307.77,239.27 L308.02,239.32 L308.27,239.35 L308.52,239.38 L308.76,239.39 L309.01,239.40 L309.26,239.40 L309.51,239.40 L309.76,239.40 L310.01,239.40 L310.26,239.40 L310.51,239.40 L310.76,239.40 L311.01,239.40 L311.26,239.40 L311.51,239.40 L311.76,239.40 L312.01,239.40 L312.26,239.40 L312.51,239.40 L312.76,239.40 L313.01,239.40 L313.26,239.40 L313.51,239.40 L313.76,239.40 L314.01,239.40 L314.26,239.40 L314.51,239.40 L314.76,239.40 L315.01,239.40 L315.26,239.40 L315.51,239.40 L315.76,239.40 L316.01,239.40 L316.26,239.40 L316.51,239.40 L316.76,239.40 L317.01,239.40 L317.26,239.40 L317.51,239.40 L317.76,239.40 L318.01,239.40 L318.26,239.40 L318.51,239.40 L318.76,239.40 L319.01,239.40 L319.26,239.40 L319.51,239.40 L319.76,239.40 L320.01,239.40 L320.25,239.40 L320.50,239.40 L320.75,239.40 L321.00,239.40 L321.25,239.40 L321.50,239.40 L321.75,239.40 L322.00,239.40 L322.25,239.40 L322.50,239.40 L322.75,239.40 L323.00,239.40 L323.25,239.40 L323.50,239.40 L323.75,239.40 L324.00,239.40 L324.25,239.40 L324.50,239.40 L324.75,239.40 L325.00,239.40 L325.25,239.40 L325.50,239.40 L325.75,239.40 L326.00,239.40" fill="none" stroke="#0000ff" stroke-width="2.2" stroke-dasharray="2.8 1.95" stroke-linejoin="round"/>
<line x1="148" y1="31.6" x2="177" y2="31.6" stroke="#ff0000" stroke-width="2" stroke-dasharray="5.3 2.6"/>
<line x1="148" y1="51.15" x2="177" y2="51.15" stroke="#ffd700" stroke-width="2" stroke-dasharray="8 3"/>
<line x1="148" y1="70.7" x2="177" y2="70.7" stroke="#00ff00" stroke-width="2" stroke-dasharray="5 1.77"/>
<line x1="148" y1="90.35" x2="177" y2="90.35" stroke="#0000ff" stroke-width="2" stroke-dasharray="2.8 1.95"/>
<text transform="translate(64.60,244.65) scale(1,1.06)" font-family="Liberation Sans, sans-serif" font-size="13.33" text-anchor="end" fill="#000" >0</text>
<text transform="translate(64.60,203.29) scale(1,1.06)" font-family="Liberation Sans, sans-serif" font-size="13.33" text-anchor="end" fill="#000" >500</text>
<text transform="translate(64.60,161.93) scale(1,1.06)" font-family="Liberation Sans, sans-serif" font-size="13.33" text-anchor="end" fill="#000" >1000</text>
<text transform="translate(64.60,120.57) scale(1,1.06)" font-family="Liberation Sans, sans-serif" font-size="13.33" text-anchor="end" fill="#000" >1500</text>
<text transform="translate(64.60,79.21) scale(1,1.06)" font-family="Liberation Sans, sans-serif" font-size="13.33" text-anchor="end" fill="#000" >2000</text>
<text transform="translate(64.60,37.85) scale(1,1.06)" font-family="Liberation Sans, sans-serif" font-size="13.33" text-anchor="end" fill="#000" >2500</text>
<text transform="translate(72.60,259.95) scale(1,1.06)" font-family="Liberation Sans, sans-serif" font-size="13.33" text-anchor="middle" fill="#000" >10°</text>
<text transform="translate(185.10,259.95) scale(1,1.06)" font-family="Liberation Sans, sans-serif" font-size="13.33" text-anchor="middle" fill="#000" >20°</text>
<text transform="translate(297.60,259.95) scale(1,1.06)" font-family="Liberation Sans, sans-serif" font-size="13.33" text-anchor="middle" fill="#000" >30°</text>
<text transform="translate(410.10,259.95) scale(1,1.06)" font-family="Liberation Sans, sans-serif" font-size="13.33" text-anchor="middle" fill="#000" >40°</text>
<text transform="translate(241.60,281.60) scale(1,1.06)" font-family="Liberation Sans, sans-serif" font-size="13.33" text-anchor="middle" fill="#000" >θ</text>
<text transform="translate(80.00,36.50) scale(1,1.06)" font-family="Liberation Sans, sans-serif" font-size="13.33" text-anchor="start" fill="#000" >Mω = 10</text>
<text transform="translate(80.00,56.05) scale(1,1.06)" font-family="Liberation Sans, sans-serif" font-size="13.33" text-anchor="start" fill="#000" >Mω = 30</text>
<text transform="translate(80.00,75.60) scale(1,1.06)" font-family="Liberation Sans, sans-serif" font-size="13.33" text-anchor="start" fill="#000" >Mω = 50</text>
<text transform="translate(80.00,95.25) scale(1,1.06)" font-family="Liberation Sans, sans-serif" font-size="13.33" text-anchor="start" fill="#000" >Mω = 100</text>
<text transform="translate(394.00,36.70) scale(1,1.06)" font-family="Liberation Sans, sans-serif" font-size="13.33" text-anchor="end" fill="#000" word-spacing="0.6">R = 10M</text>
<text transform="translate(17.3,127.6) rotate(-90) scale(1,1.06)" letter-spacing="0.12" font-family="Liberation Sans, sans-serif" font-size="13.33" text-anchor="middle" fill="#000">M<tspan dy="-5" font-size="10.67">-2</tspan><tspan dy="5"> dσ/dΩ</tspan></text>
</svg>
</body></html>
